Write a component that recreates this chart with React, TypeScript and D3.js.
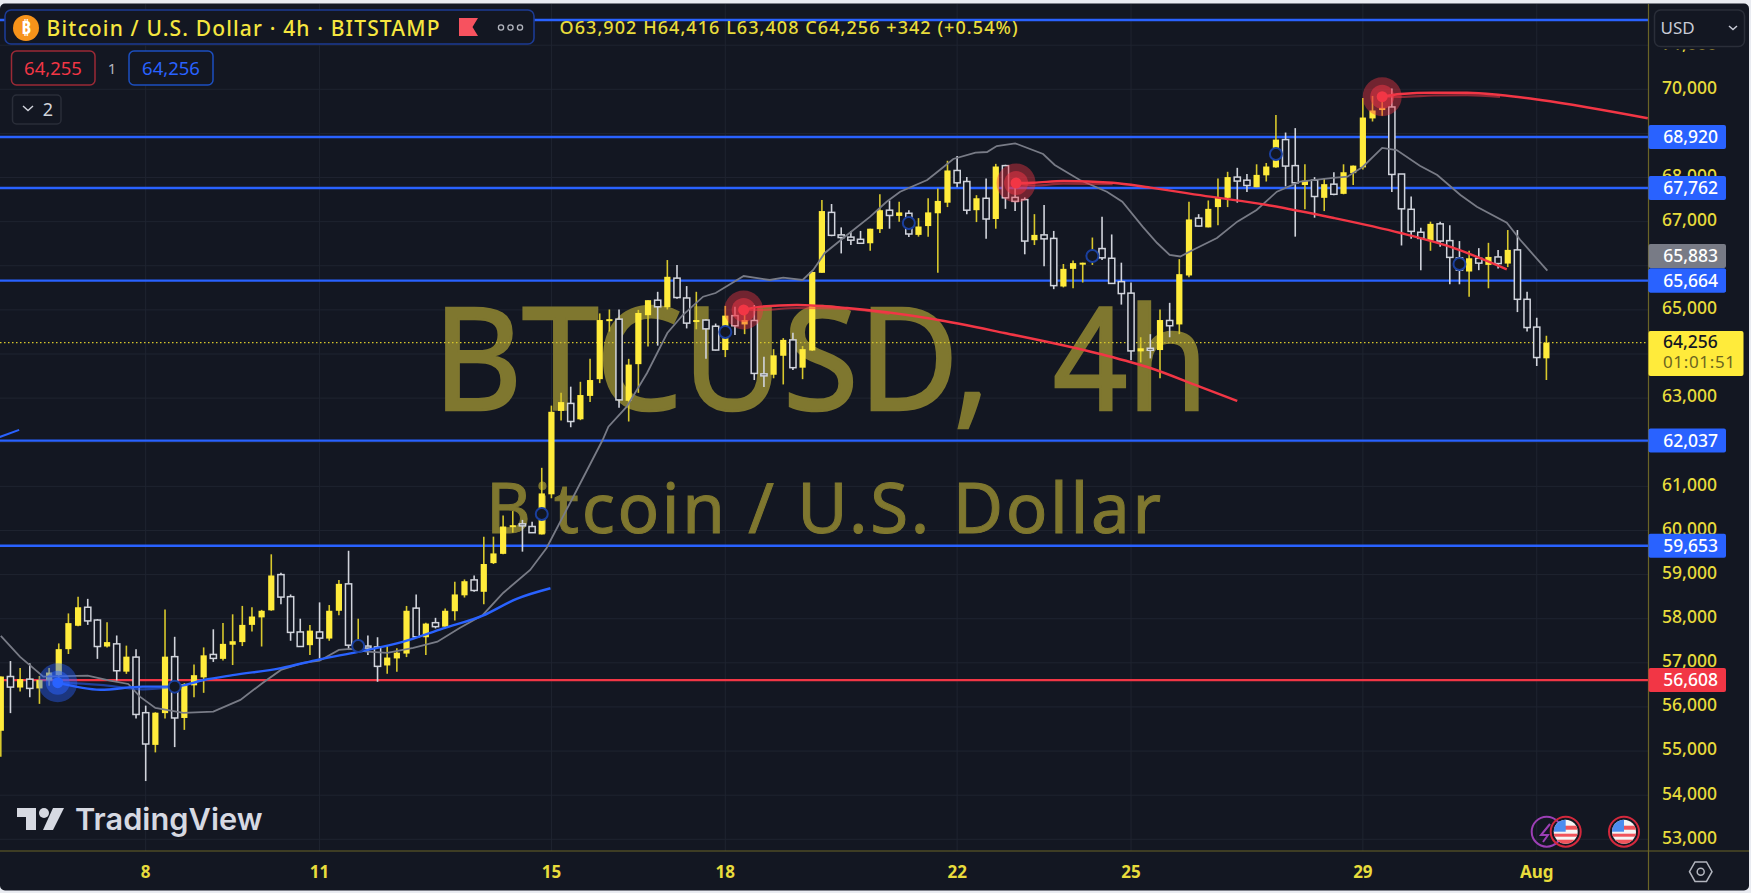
import * as d3 from "d3";

const width = 1751;
const height = 893;
const plotRight = 1648.5;
const plotBottom = 851;

const bg = "#131722";
const tickYellow = "#e8dc3c";
const candleYellow = "#ffeb3b";
const wickYellow = "#d8c82c";
const candleWhite = "#d1d4dc";
const levelBlue = "#2962ff";
const levelRed = "#f23645";
const fontFamily = "'Noto Sans', sans-serif";

const opens = [
  55460, 56690, 56440, 56630, 56420, 56600, 56720, 57310, 57840, 58260,
  57970, 57370, 57430, 56800, 57130, 55870, 55140, 55860, 57140, 55750,
  56490, 56670, 57190, 57090, 57410, 57470, 57860, 58030, 58190, 59000,
  58500, 57700, 57400, 57700, 57550, 58180, 58790, 57270, 57380, 57360,
  56940, 57100, 57210, 58240, 57580, 57910, 57820, 58170, 58530, 58880,
  58610, 59260, 59470, 60100, 60150, 60090, 59910, 60820, 62710, 62880,
  62520, 63050, 63430, 64750, 64790, 62940, 63770, 64880, 65220, 65060,
  65720, 65270, 64730, 64770, 64630, 64090, 64870, 64670, 64760, 63550,
  63530, 63960, 64320, 63690, 64080, 65840, 67210, 66700, 66650, 66600,
  66510, 66830, 67260, 67130, 67190, 66700, 66900, 67190, 67430, 68160,
  67910, 67260, 67530, 67060, 68270, 67550, 67500, 66580, 66700, 66620,
  65530, 65930, 66050, 66090, 66390, 66170, 65640, 65380, 64060, 64130,
  64090, 64760, 64670, 65780, 67080, 66870, 67330, 67540, 68010, 67940,
  67780, 68050, 68230, 68860, 68270, 67830, 67940, 67540, 67850, 67630,
  68100, 68230, 69340, 69530, 69600, 68080, 67280, 66760, 66570, 66950,
  66570, 66180, 65870, 66170, 66020, 66200, 66050, 66360, 65240, 64610,
  63902,
];

const closes = [
  56690, 56450, 56630, 56420, 56610, 56780, 57310, 57900, 58260, 57950,
  57370, 57470, 56820, 57140, 55830, 55160, 55870, 57140, 55750, 56520,
  56720, 57170, 57100, 57430, 57490, 57860, 58050, 58180, 58980, 58490,
  57690, 57370, 57730, 57560, 58180, 58790, 57400, 57500, 57370, 56920,
  57120, 57230, 58180, 57590, 57890, 57820, 58180, 58550, 58850, 58640,
  59240, 59480, 60090, 60120, 60120, 59950, 60840, 62690, 62910, 62470,
  63070, 63410, 64770, 64790, 62960, 63760, 64930, 65220, 65070, 65750,
  65280, 64700, 64770, 64570, 64090, 64870, 64640, 64770, 63560, 63510,
  63970, 64320, 63690, 64110, 65860, 67240, 66690, 66640, 66580, 66510,
  66840, 67260, 67140, 67210, 66720, 66890, 67210, 67470, 68160, 67880,
  67260, 67530, 67060, 68250, 67540, 67460, 66560, 66700, 66610, 65550,
  65930, 66060, 66070, 66340, 66180, 65600, 65370, 64070, 64130, 64110,
  64770, 64640, 65810, 67050, 66900, 67290, 67550, 68010, 67920, 67820,
  68060, 68250, 68860, 68260, 67880, 67930, 67570, 67850, 67620, 68120,
  68270, 69360, 69520, 69580, 68070, 67290, 66780, 66620, 66950, 66560,
  66190, 65900, 66170, 66060, 66200, 66050, 66360, 65240, 64600, 63920,
  64256,
];

const highs = [
  56690, 57040, 56880, 56990, 56700, 56880, 57440, 58120, 58500, 58450,
  57990, 57920, 57620, 57390, 57310, 56030, 55880, 58210, 57590, 56540,
  56960, 57350, 57760, 57900, 58100, 58290, 58260, 58200, 59460, 59040,
  58550, 58000, 57860, 58370, 58310, 58880, 59540, 58000, 57620, 57580,
  57400, 57330, 58290, 58550, 57910, 58020, 58230, 58840, 58890, 58980,
  59860, 59860, 60340, 60440, 60240, 60200, 61420, 62830, 63120, 63260,
  63370, 63890, 64920, 65010, 65010, 63890, 65000, 65220, 65410, 66130,
  66020, 65540, 65410, 64790, 64690, 65090, 65070, 64980, 65110, 63940,
  64110, 64360, 64480, 64180, 65860, 67490, 67400, 66870, 66790, 66790,
  66840, 67620, 67480, 67450, 67260, 67080, 67530, 67750, 68380, 68490,
  68010, 67600, 67980, 68310, 68290, 67780, 67550, 67170, 67380, 66790,
  66040, 66120, 66070, 66640, 67110, 66710, 66070, 65620, 64380, 64450,
  65010, 65160, 66150, 67450, 67170, 67480, 67980, 68130, 68220, 68080,
  68300, 68330, 69420, 69020, 69120, 68300, 68010, 67980, 68120, 68300,
  68270, 69800, 69850, 69850, 70020, 68080, 67570, 66860, 67000, 67000,
  66920, 66560, 66340, 66400, 66520, 66360, 66810, 66810, 65410, 64820,
  64416,
];

const lows = [
  54870, 55860, 56350, 56220, 56070, 56480, 56540, 57200, 57830, 57860,
  57090, 57350, 56600, 56750, 55740, 54320, 54970, 55740, 55090, 55480,
  56220, 56320, 57020, 57050, 56950, 57380, 57710, 57370, 58180, 58330,
  57500, 57360, 57180, 57100, 57500, 58080, 57290, 57250, 57180, 56570,
  56750, 56800, 57130, 57560, 57180, 57780, 57780, 57960, 58480, 58610,
  58330, 59240, 59460, 59950, 59520, 59940, 59910, 60730, 62490, 62340,
  62500, 62910, 63340, 64510, 62780, 62470, 63120, 64170, 64190, 65010,
  65250, 64580, 64560, 63890, 64080, 63930, 64430, 64450, 63410, 63250,
  63450, 63310, 63640, 63430, 64070, 65840, 66670, 66280, 66470, 66500,
  66340, 66740, 66840, 67000, 66650, 66660, 66660, 65840, 67330, 67780,
  67170, 66990, 66610, 66840, 67290, 67240, 66260, 66470, 65990, 65470,
  65510, 65490, 65620, 66020, 66130, 65600, 65120, 63860, 63810, 63900,
  63450, 64380, 64450, 65740, 66890, 66870, 66920, 67330, 67430, 67670,
  67780, 67910, 68220, 67800, 66660, 67280, 67090, 67240, 67600, 67620,
  67830, 68180, 69270, 69400, 67670, 66460, 66610, 65900, 66340, 66430,
  65580, 65580, 65300, 65900, 65490, 65940, 65970, 64950, 64510, 63730,
  63408,
];

// moving average: candle position, price
const maIndex = [
  0, 2, 4.4, 9, 11.3, 13.2, 14.4, 16, 18.9, 22, 24.8, 27.1, 29, 31.3, 33, 35, 36.2, 37.9, 40, 42.7,
  45.2, 47.5, 49.9, 52, 54.8, 56.5, 59.2, 62.3, 62.9, 64.8, 66.9, 69, 70.6, 72.7, 74, 76.9, 79.6, 81, 83, 84.1,
  85.3, 87.6, 90, 91.7, 93.1, 95.9, 97.2, 98.6, 100.9, 102.1, 103.1, 105, 107.9, 109.1, 111.7, 114.5, 116.1, 118.2, 119.7, 121,
  122.1, 123.4, 125.9, 128, 130, 132.1, 134.5, 137.9, 139.4, 141, 143, 144.5, 146.9, 148.7, 151.1, 152.8, 155.9, 157.3, 160.1,
];
const maPrice = [
  57609, 57134, 56687, 56710, 56596, 56521, 56233, 55977, 55864, 55893, 56159, 56544, 56839, 56997, 57049, 57292, 57315, 57253, 57224, 57337,
  57480, 57790, 58085, 58584, 59105, 59604, 60737, 62051, 62353, 62806, 63570, 64476, 64884, 65299, 65383, 65768, 65678, 65730, 65678, 65905,
  66290, 66698, 67113, 67452, 67679, 67944, 68171, 68420, 68563, 68579, 68715, 68776, 68534, 68284, 67944, 67679, 67452, 66886, 66516, 66244,
  66210, 66358, 66630, 67000, 67264, 67679, 67906, 67990, 68019, 68246, 68670, 68624, 68268, 68058, 67604, 67339, 66976, 66584, 65889,
];

// arcs: main strand first, paler strands after
const blueArcIndex = [5.9, 10.3, 14.7, 18, 21, 24, 29, 33, 37, 41.7, 45.8, 49.9, 53.4, 56.9];
const blueArcPrice = [56550, 56390, 56460, 56460, 56610, 56720, 56880, 57080, 57250, 57480, 57780, 58070, 58450, 58690];
const blueGlowIndex = [5.9, 10.3, 14.7, 18];
const blueGlowPrice = [56550, 56500, 56400, 56460];
const leftArcIndex = [-0.1, 1.9];
const leftArcPrice = [62120, 62280];

const red1Index = [76.9, 78.7, 82.4, 87.6, 96.5, 103.9, 113.8, 119, 124.1, 128];
const red1Price = [64998, 65073, 65111, 65043, 64794, 64477, 64000, 63683, 63260, 62935];
const red1GlowIndex = [76.9, 78.7, 82.4, 87.6, 92];
const red1GlowPrice = [64998, 64998, 65043, 65020, 64907];
const red2Index = [105.1, 106.9, 110, 115.1, 119, 125.2, 131.1, 138, 144.9, 150, 155.9];
const red2Price = [67876, 67883, 67921, 67883, 67770, 67566, 67378, 67083, 66743, 66433, 65920];
const red2GlowIndex = [105.1, 106.9, 110, 115.1];
const red2GlowPrice = [67876, 67820, 67860, 67850];
const red3Index = [143, 144.9, 148.3, 151.8, 155.2, 159.4, 170.5];
const red3Price = [69832, 69893, 69923, 69923, 69871, 69757, 69343];
const red3GlowIndex = [143, 144.9, 148.3, 151.8, 155.2];
const red3GlowPrice = [69832, 69830, 69860, 69870, 69830];

const markerIndex = [18, 37, 56, 75, 94, 113, 132, 151];
const markerPrice = [56460, 57382, 60374, 64499, 66970, 66222, 68534, 66040];

const priceTicks = [71000, 70000, 69000, 68000, 67000, 66000, 65000, 64000, 63000, 62000, 61000, 60000, 59000, 58000, 57000, 56000, 55000, 54000, 53000];
const hiddenTicks = [69000, 66000, 64000, 62000];
const dateTicks = [15, 33, 57, 75, 99, 117, 141, 159];
const dateLabels = ["8", "11", "15", "18", "22", "25", "29", "Aug"];
const bluePrices = [68920, 67762, 65664, 62037, 59653];
const topLinePrice = 71570;
const redPrice = 56608;
const maLast = 65883;
const lastPrice = 64256;
const countdown = "01:01:51";

const x = d3.scaleLinear().domain([0, 160]).range([0.8, 1546.4]);
const y = d3.scaleLinear().domain([70000, 53000]).range([89.3, 839.3]);
const fmt = d3.format(",");

const pts = (idx: number[], price: number[]) => idx.map((v, i) => [v, price[i]] as [number, number]);
const smooth = d3.line<[number, number]>().x((d) => x(d[0])).y((d) => y(d[1])).curve(d3.curveMonotoneX);
const straight = d3.line<[number, number]>().x((d) => x(d[0])).y((d) => y(d[1]));

function Glow({ cx, cy, color }: { cx: number; cy: number; color: string }) {
  return (
    <g>
      <circle cx={cx} cy={cy} r={19.5} fill={color} opacity={0.42} />
      <circle cx={cx} cy={cy} r={12} fill={color} opacity={0.5} />
      <circle cx={cx} cy={cy} r={5.5} fill={color} />
    </g>
  );
}

function Flag({ cx, id }: { cx: number; id: string }) {
  const cy = 831.7;
  return (
    <g>
      <clipPath id={id}>
        <circle cx={cx} cy={cy} r={12} />
      </clipPath>
      <g clipPath={`url(#${id})`}>
        <rect x={cx - 13} y={cy - 13} width={26} height={26} fill="#f5f5f5" />
        <rect x={cx - 13} y={cy - 6} width={26} height={4} fill="#f0535b" />
        <rect x={cx - 13} y={cy + 2} width={26} height={3} fill="#f0535b" />
        <rect x={cx - 13} y={cy + 8} width={26} height={6} fill="#f0535b" />
        <rect x={cx - 13} y={cy - 13} width={13} height={13} fill="#4c8df0" />
      </g>
      <circle cx={cx} cy={cy} r={15} fill="none" stroke="#d3283c" strokeWidth={2} />
    </g>
  );
}

function PriceTag({ price, fill, offset = 0 }: { price: number; fill: string; offset?: number }) {
  const cy = y(price) + offset;
  return (
    <g>
      <rect x={plotRight} y={cy - 12} width={77.5} height={24} rx={2} fill={fill} />
      <text x={1690.7} y={cy} dy="0.35em" textAnchor="middle" fontSize={17.5} fill="#ffffff" fontWeight={500}>
        {fmt(price)}
      </text>
    </g>
  );
}

export default function App() {
  const bodyW = 6.2;
  return (
    <svg
      width={width}
      height={height}
      viewBox={`0 0 ${width} ${height}`}
      style={{ position: "absolute", left: 0, top: 0, display: "block", fontFamily }}
    >
      <defs>
        <clipPath id="plot">
          <rect x={0} y={0} width={plotRight} height={plotBottom} />
        </clipPath>
        <clipPath id="axisTicks">
          <rect x={plotRight} y={49.5} width={110} height={plotBottom - 49.5} />
        </clipPath>
      </defs>
      <rect width={width} height={height} fill="#e9ebf1" />
      <rect x={0} y={3.5} width={1749} height={887} rx={5} fill={bg} />

      {/* grid */}
      {priceTicks.map((t) => (
        <line key={t} x1={0} x2={plotRight} y1={y(t)} y2={y(t)} stroke="#1f2430" strokeWidth={1} />
      ))}
      {dateTicks.map((t) => (
        <line key={t} x1={x(t)} x2={x(t)} y1={4} y2={plotBottom} stroke="#1f2430" strokeWidth={1} />
      ))}

      {/* watermark */}
      <g fill="#7f772f" stroke="#7f772f">
        <text x={433} y={410} fontSize={143} strokeWidth={2.5} textLength={557} lengthAdjust="spacingAndGlyphs">
          BTCUSD,
        </text>
        <text x={1053} y={410} fontSize={143} strokeWidth={2.5} textLength={155} lengthAdjust="spacingAndGlyphs">
          4h
        </text>
        <text x={486} y={533} fontSize={69} strokeWidth={1} textLength={675} lengthAdjust="spacing">
          Bitcoin / U.S. Dollar
        </text>
      </g>

      <g clipPath="url(#plot)">
        <line x1={0} x2={plotRight} y1={y(lastPrice)} y2={y(lastPrice)} stroke="#d8c82c" strokeWidth={1.2} strokeDasharray="1.5 2.5" />
        <line x1={0} x2={plotRight} y1={y(topLinePrice)} y2={y(topLinePrice)} stroke={levelBlue} strokeWidth={2.4} />
        {bluePrices.map((p) => (
          <line key={p} x1={0} x2={plotRight} y1={y(p)} y2={y(p)} stroke={levelBlue} strokeWidth={2.4} />
        ))}
        <line x1={0} x2={plotRight} y1={y(redPrice)} y2={y(redPrice)} stroke={levelRed} strokeWidth={2.4} />

        {/* candles */}
        {opens.map((o, i) => {
          const c = closes[i];
          const up = c >= o;
          const cx = x(i);
          const top = y(Math.max(o, c));
          const bot = y(Math.min(o, c));
          return (
            <g key={i}>
              <line x1={cx} x2={cx} y1={y(highs[i])} y2={y(lows[i])} stroke={up ? wickYellow : candleWhite} strokeWidth={1.6} />
              {up ? (
                <rect x={cx - bodyW / 2} y={top} width={bodyW} height={Math.max(bot - top, 2)} fill={candleYellow} />
              ) : (
                <rect x={cx - bodyW / 2} y={top} width={bodyW} height={Math.max(bot - top, 2)} fill={bg} stroke={candleWhite} strokeWidth={1.5} />
              )}
            </g>
          );
        })}

        <path d={straight(pts(maIndex, maPrice)) ?? ""} fill="none" stroke="#787b86" strokeWidth={1.8} />

        {/* arcs */}
        <path d={smooth(pts(blueGlowIndex, blueGlowPrice)) ?? ""} fill="none" stroke={levelBlue} strokeOpacity={0.55} strokeWidth={2.2} />
        <path d={smooth(pts(blueArcIndex, blueArcPrice)) ?? ""} fill="none" stroke={levelBlue} strokeWidth={2.4} />
        <path d={smooth(pts(leftArcIndex, leftArcPrice)) ?? ""} fill="none" stroke={levelBlue} strokeWidth={2} />
        <path d={smooth(pts(red1GlowIndex, red1GlowPrice)) ?? ""} fill="none" stroke={levelRed} strokeOpacity={0.55} strokeWidth={2.2} />
        <path d={smooth(pts(red1Index, red1Price)) ?? ""} fill="none" stroke={levelRed} strokeWidth={2.4} />
        <path d={smooth(pts(red2GlowIndex, red2GlowPrice)) ?? ""} fill="none" stroke={levelRed} strokeOpacity={0.55} strokeWidth={2.2} />
        <path d={smooth(pts(red2Index, red2Price)) ?? ""} fill="none" stroke={levelRed} strokeWidth={2.4} />
        <path d={smooth(pts(red3GlowIndex, red3GlowPrice)) ?? ""} fill="none" stroke={levelRed} strokeOpacity={0.55} strokeWidth={2.2} />
        <path d={smooth(pts(red3Index, red3Price)) ?? ""} fill="none" stroke={levelRed} strokeWidth={2.4} />

        <Glow cx={x(blueArcIndex[0])} cy={y(blueArcPrice[0])} color={levelBlue} />
        <Glow cx={x(red1Index[0])} cy={y(red1Price[0])} color={levelRed} />
        <Glow cx={x(red2Index[0])} cy={y(red2Price[0])} color={levelRed} />
        <Glow cx={x(red3Index[0])} cy={y(red3Price[0])} color={levelRed} />

        {markerIndex.map((m, i) => (
          <circle key={m} cx={x(m)} cy={y(markerPrice[i])} r={6} fill={bg} stroke="#1a3f9e" strokeWidth={2} />
        ))}
      </g>

      {/* axes */}
      <line x1={plotRight} x2={plotRight} y1={4} y2={890} stroke="#6a6426" strokeWidth={1.2} />
      <line x1={0} x2={1749} y1={plotBottom} y2={plotBottom} stroke="#6a6426" strokeWidth={1.2} />

      <g clipPath="url(#axisTicks)">
        {priceTicks
          .filter((t) => !hiddenTicks.includes(t))
          .map((t) => (
            <text key={t} x={1689.5} y={y(t) - 1.8} dy="0.35em" textAnchor="middle" fontSize={17.5} fill={tickYellow} fontWeight={500}>
              {fmt(t)}
            </text>
          ))}
      </g>
      {dateTicks.map((t, i) => (
        <text key={t} x={x(t)} y={871.7} dy="0.35em" textAnchor="middle" fontSize={17} fontWeight={700} fill={tickYellow}>
          {dateLabels[i]}
        </text>
      ))}

      {/* USD box */}
      <rect x={1654.5} y={10} width={90} height={36.5} rx={6} fill={bg} stroke="#2a2e39" strokeWidth={1.5} />
      <text x={1660.5} y={28.5} dy="0.35em" fontSize={17} fill="#c8cbd6">
        USD
      </text>
      <path d="M1729 26 l4 3.5 l4 -3.5" fill="none" stroke="#c8cbd6" strokeWidth={1.5} />

      {bluePrices.map((p) => (
        <PriceTag key={p} price={p} fill={levelBlue} />
      ))}
      <PriceTag price={redPrice} fill={levelRed} />
      <PriceTag price={maLast} fill="#787b86" offset={-15} />
      <PriceTag price={65664} fill={levelBlue} />

      {/* last price */}
      <rect x={plotRight} y={331} width={95} height={45} rx={2} fill={candleYellow} />
      <text x={1663} y={342} dy="0.35em" fontSize={17.5} fill={bg} fontWeight={500}>
        {fmt(lastPrice)}
      </text>
      <text x={1663} y={362.5} dy="0.35em" fontSize={17} fill="#6b6520" textLength={72} lengthAdjust="spacing">
        {countdown}
      </text>

      {/* header legend */}
      <rect x={5} y={10} width={529} height={34} rx={6} fill={bg} stroke="#1c3b94" strokeWidth={1.6} />
      <circle cx={26} cy={28} r={13} fill="#f7931a" />
      <text x={26} y={28} dy="0.36em" textAnchor="middle" fontSize={17} fontWeight={700} fill="#ffffff">
        ₿
      </text>
      <text x={46.5} y={28} dy="0.36em" fontSize={21} fontWeight={500} fill="#f6e63f" textLength={393} lengthAdjust="spacing">
        Bitcoin / U.S. Dollar · 4h · BITSTAMP
      </text>
      <path d="M459 18 H478 L472.5 27 L478 36 H459 Z" fill="#f7525f" />
      {[501, 510.5, 520].map((cx) => (
        <circle key={cx} cx={cx} cy={27.5} r={2.6} fill="none" stroke="#b2b5be" strokeWidth={1.3} />
      ))}
      <text x={559.5} y={28} dy="0.36em" fontSize={18} fill="#e8dc3c" fontWeight={500} textLength={458} lengthAdjust="spacing">
        O63,902  H64,416  L63,408  C64,256  +342 (+0.54%)
      </text>

      <rect x={11.5} y={51} width={83.5} height={34} rx={5} fill={bg} stroke="#9c2a36" strokeWidth={1.5} />
      <text x={53} y={68.8} dy="0.35em" textAnchor="middle" fontSize={18.5} fill={levelRed}>
        64,255
      </text>
      <text x={112} y={68.8} dy="0.35em" textAnchor="middle" fontSize={15} fill="#b2b5be">
        1
      </text>
      <rect x={129} y={51} width={84} height={34} rx={5} fill={bg} stroke="#1c4fc0" strokeWidth={1.5} />
      <text x={171} y={68.8} dy="0.35em" textAnchor="middle" fontSize={18.5} fill={levelBlue}>
        64,256
      </text>
      <rect x={12.5} y={95} width={48.5} height={29} rx={4} fill={bg} stroke="#2a2e39" strokeWidth={1.5} />
      <path d="M23 106 l5 4.5 l5 -4.5" fill="none" stroke="#d1d4dc" strokeWidth={1.4} />
      <text x={48} y={109.5} dy="0.35em" textAnchor="middle" fontSize={18} fill="#d1d4dc">
        2
      </text>

      {/* TradingView mark */}
      <path d="M17 808 H36 V830 H26 V817 H17 Z" fill="#d6d9e2" />
      <circle cx={44} cy={813} r={5} fill="#d6d9e2" />
      <path d="M53 808 H64 L53 830 H43 Z" fill="#d6d9e2" />
      <text x={75} y={830} fontSize={30} fontWeight={600} fill="#d6d9e2" style={{ fontFamily: "Inter, sans-serif" }} textLength={187.5} lengthAdjust="spacingAndGlyphs">
        TradingView
      </text>

      {/* events */}
      <circle cx={1546.7} cy={831.7} r={15} fill="none" stroke="#9c3fb5" strokeWidth={2} />
      <path d="M1550 824 L1541 835 H1548 L1543 842" fill="none" stroke="#9c3fb5" strokeWidth={2} />
      <Flag cx={1565.7} id="flagA" />
      <Flag cx={1624} id="flagB" />

      {/* settings */}
      <path d="M1689.5 871.7 L1695 862 H1706.5 L1712 871.7 L1706.5 881.4 H1695 Z" fill="none" stroke="#b2b5be" strokeWidth={1.5} />
      <circle cx={1700.7} cy={871.7} r={3.5} fill="none" stroke="#b2b5be" strokeWidth={1.5} />
    </svg>
  );
}
